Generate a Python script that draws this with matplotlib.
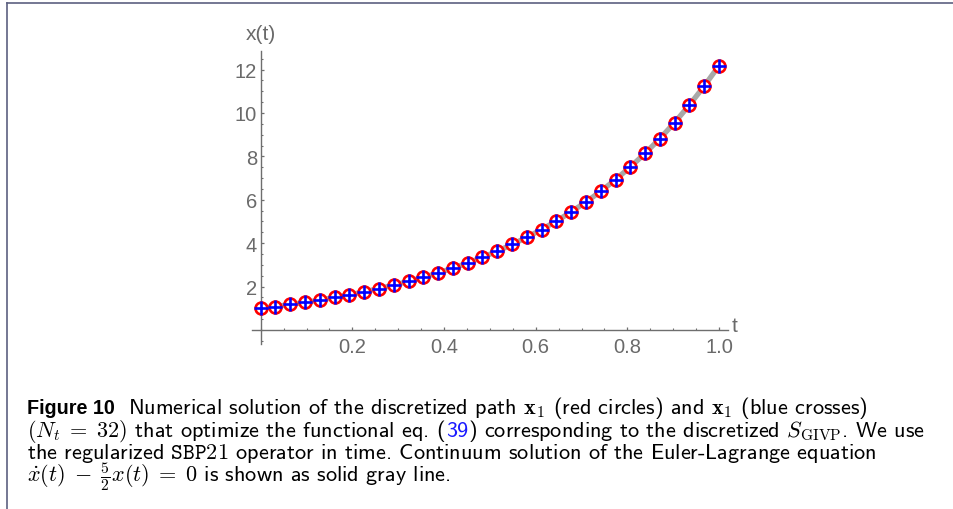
import matplotlib
matplotlib.use("Agg")
import matplotlib.pyplot as plt
from matplotlib.lines import Line2D
from matplotlib.ticker import MultipleLocator, FixedLocator

# ---- data ----
t_vals = [i / 31 for i in range(32)]
x_vals = [1.00, 1.08, 1.18, 1.27, 1.38, 1.50, 1.62, 1.76, 1.91, 2.07, 2.24,
          2.43, 2.63, 2.85, 3.09, 3.35, 3.63, 3.94, 4.27, 4.63, 5.02, 5.44,
          5.90, 6.39, 6.93, 7.51, 8.14, 8.82, 9.56, 10.37, 11.24, 12.18]
xtick_vals = [0.2, 0.4, 0.6, 0.8, 1.0]
xtick_labels = ["0.2", "0.4", "0.6", "0.8", "1.0"]
ytick_vals = [2, 4, 6, 8, 10, 12]
ytick_labels = ["2", "4", "6", "8", "10", "12"]

plt.rcParams['mathtext.fontset'] = 'cm'

W, H = 954, 510
fig = plt.figure(figsize=(W / 100, H / 100), dpi=100)
fig.patch.set_facecolor('white')

def fx(px):
    return px / W

def fy(py):
    return 1 - py / H

# axes box in pixels
L, R, T, B = 251.7, 728.3, 51.7, 345.0
ax = fig.add_axes([fx(L), fy(B), (R - L) / W, (B - T) / H])
ax.set_xlim(-0.0196, 1.0203)
ax.set_ylim(-0.645, 12.87)

axcol = '#6e6e6e'
labcol = '#6a6a6a'
for s in ['top', 'right']:
    ax.spines[s].set_visible(False)
ax.spines['left'].set_position(('data', 0))
ax.spines['bottom'].set_position(('data', 0))
for s in ['left', 'bottom']:
    ax.spines[s].set_color(axcol)
    ax.spines[s].set_linewidth(1.0)

ax.xaxis.set_major_locator(FixedLocator(xtick_vals))
ax.set_xticklabels(xtick_labels)
ax.yaxis.set_major_locator(FixedLocator(ytick_vals))
ax.set_yticklabels(ytick_labels)
ax.xaxis.set_minor_locator(MultipleLocator(0.05))
ax.yaxis.set_minor_locator(MultipleLocator(0.5))
ax.tick_params(which='major', direction='in', length=2.4, width=0.9, color=axcol,
               labelsize=14.5, labelcolor=labcol)
ax.tick_params(axis='x', which='major', pad=4.8)
ax.tick_params(axis='y', which='major', pad=2.5)
ax.tick_params(which='minor', direction='in', length=1.3, width=0.8, color=axcol)
for lab in ax.get_xticklabels() + ax.get_yticklabels():
    lab.set_family('Liberation Sans')

ax.plot(t_vals, x_vals, color='#a8a8a8', lw=3.8, zorder=2, solid_capstyle='butt')
ax.plot(t_vals, x_vals, ls='none', marker='o', ms=8.6, mfc='white', mec='#ff0000',
        mew=1.9, zorder=3)
ax.plot(t_vals, x_vals, ls='none', marker='+', ms=10, mec='#0000ff', mew=1.9, zorder=4)
for ln in ax.lines:
    ln.set_clip_on(False)

fig.text(fx(260.7), fy(35), 'x(t)', ha='center', va='center', fontsize=15,
         color=labcol, family='Liberation Sans')
fig.text(fx(732), fy(327), 't', ha='left', va='center', fontsize=15,
         color=labcol, family='Liberation Sans')

# frame lines
fcol = '#5c6080'
fig.add_artist(Line2D([fx(7.3), 1.0], [fy(4), fy(4)], color=fcol, lw=1.2))
fig.add_artist(Line2D([fx(7.3), fx(7.3)], [fy(4), 0.0], color=fcol, lw=1.2))

# caption
fig.canvas.draw()
renderer = fig.canvas.get_renderer()
fs = 16
x0 = 27
base = [414.3, 436.7, 459.0, 481.5]

def put(x, y, s, **kw):
    kw.setdefault('family', 'cmss10')
    kw.setdefault('fontsize', fs)
    kw.setdefault('color', 'black')
    t = fig.text(fx(x), fy(y), s, ha='left', va='baseline', **kw)
    bb = t.get_window_extent(renderer)
    return bb.x1

xe = put(x0, base[0], 'Figure 10', family='Liberation Sans', weight='bold', fontsize=14.2)
put(128, base[0],
    r'Numerical solution of the discretized path $\mathbf{x}_1$ (red circles) and $\mathbf{x}_1$ (blue crosses)')
xe = put(x0, base[1], r'$(N_t\;=\;32)$ that optimize the functional eq. (')
xe = put(xe, base[1], '39', color='#1a1aff')
put(xe, base[1], r') corresponding to the discretized $S_{\mathrm{GIVP}}$. We use')
put(x0, base[2], r'the regularized $\mathtt{SBP21}$ operator in time. Continuum solution of the Euler-Lagrange equation')
put(x0, base[3], r'$\dot{x}(t)\;-\;\frac{5}{2}x(t)\;=\;0$ is shown as solid gray line.')

fig.savefig('out.png', dpi=100, facecolor='white')
